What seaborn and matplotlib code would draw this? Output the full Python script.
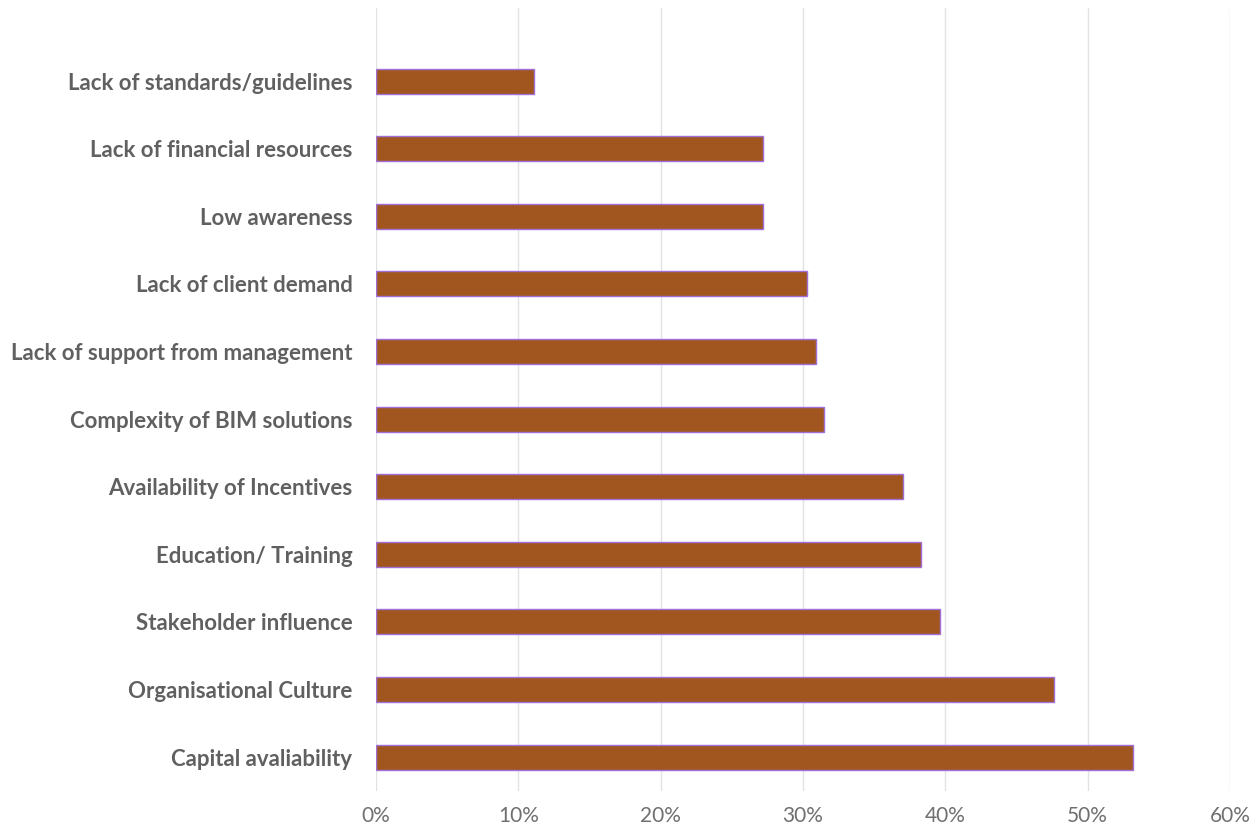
import matplotlib
matplotlib.use("Agg")
import matplotlib.pyplot as plt
import seaborn as sns
import pandas as pd
from matplotlib.ticker import FuncFormatter

categories = [
    "Lack of standards/guidelines",
    "Lack of financial resources",
    "Low awareness",
    "Lack of client demand",
    "Lack of support from management",
    "Complexity of BIM solutions",
    "Availability of Incentives",
    "Education/ Training",
    "Stakeholder influence",
    "Organisational Culture",
    "Capital avaliability",
]
values = [11.1, 27.2, 27.2, 30.3, 30.9, 31.5, 37.0, 38.3, 39.6, 47.6, 53.2]
xticks = [0, 10, 20, 30, 40, 50, 60]

df = pd.DataFrame({"category": categories, "value": values})

sns.set_theme(style="white")
plt.rcParams["font.family"] = ["Lato", "DejaVu Sans"]

fig = plt.figure(figsize=(12.59, 8.32), dpi=100)
ax = fig.add_axes([376 / 1259, 1 - 791 / 832, (1230 - 376) / 1259, (791 - 8) / 832])

sns.barplot(data=df, x="value", y="category", orient="h", ax=ax,
            color="#A0561E", saturation=1, width=0.37,
            edgecolor="#A070D8", linewidth=1.0, zorder=3)

ax.set_xlim(0, 60)
ax.set_ylim(10.5, -1.08)
ax.set_xticks(xticks)
ax.xaxis.set_major_formatter(FuncFormatter(lambda v, p: f"{int(v)}%"))
ax.grid(axis="x", color="#E2E2E2", linewidth=1.0, zorder=0)
ax.grid(axis="y", visible=False)
for s in ax.spines.values():
    s.set_visible(False)
ax.set_xlabel("")
ax.set_ylabel("")
ax.tick_params(axis="x", length=0, pad=11, labelsize=15, labelcolor="#707070")
ax.tick_params(axis="y", length=0, pad=17, labelsize=16, labelcolor="#606060")
for lab in ax.get_yticklabels():
    lab.set_fontweight("bold")

fig.savefig("out.png", dpi=100)
